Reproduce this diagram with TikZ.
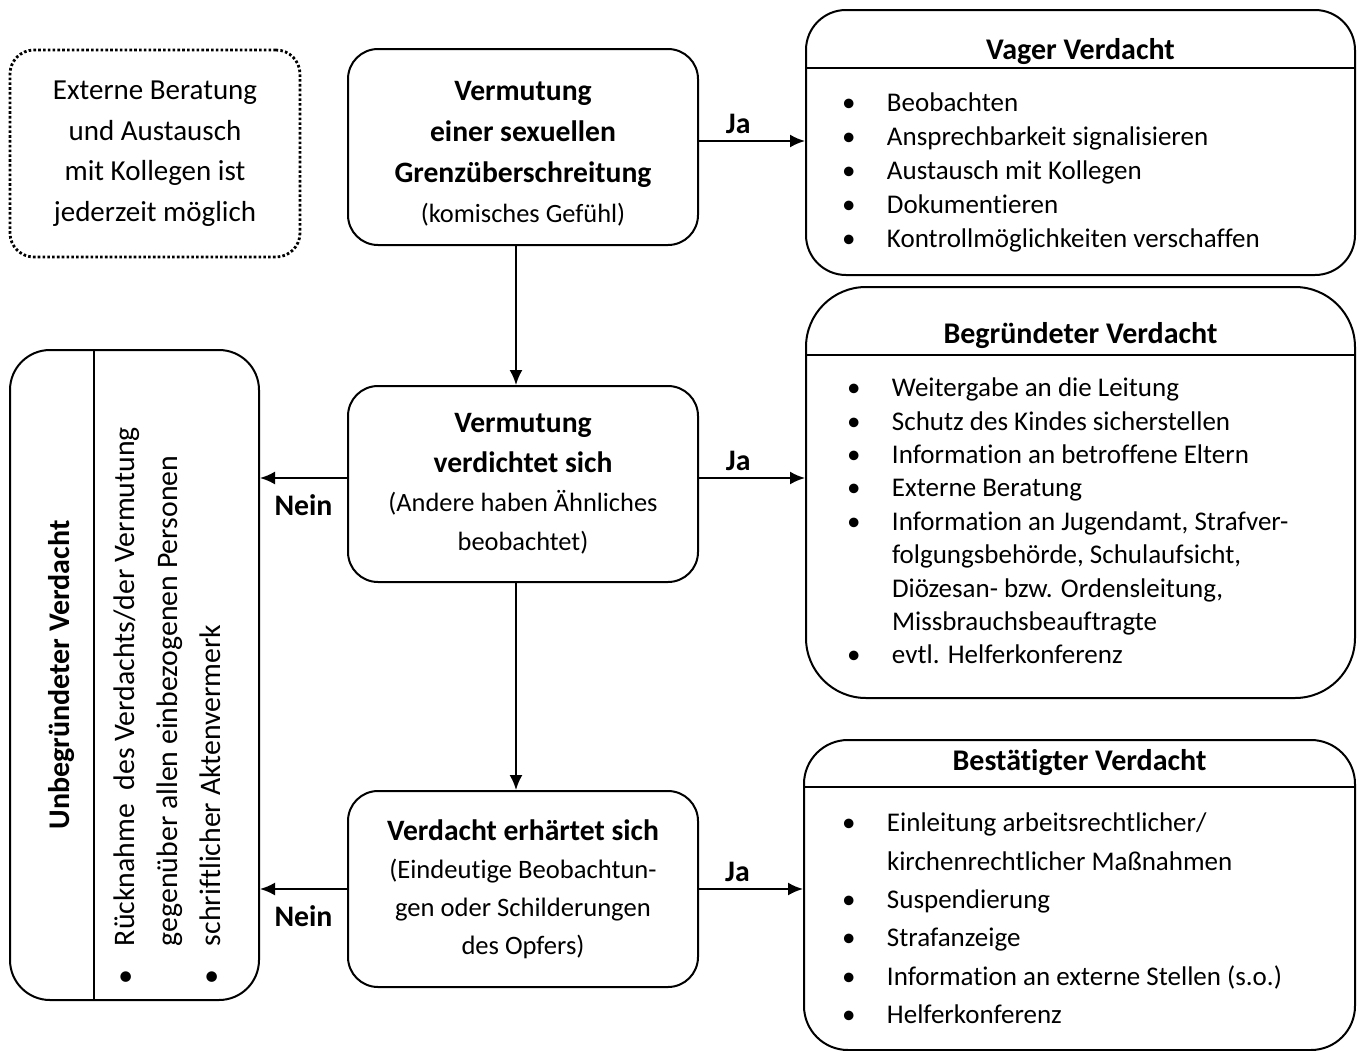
\documentclass[tikz,border=0pt]{standalone}
\usepackage{fontspec}
\setmainfont{Carlito}[Ligatures=NoCommon]
\usetikzlibrary{positioning,arrows.meta}
\newcommand{\bul}[1][22.5pt]{\makebox[#1][l]{\textbullet}}
\newcommand{\cont}[1][22.5pt]{\hspace*{#1}}
\newcommand{\hd}[1]{{\fontsize{14.8}{18}\selectfont\bfseries #1}}

\begin{document}
\begin{tikzpicture}[x=0.5pt,y=-0.5pt,line width=1pt,>={Latex[length=7.5pt,width=6.5pt]},
    every node/.style={font=\fontsize{14.9}{18}\selectfont},
    stepbox/.style={draw,rounded corners=15pt,minimum width=175pt,minimum height=98pt,inner sep=0pt,align=center,font=\fontsize{13.2}{20.3}\selectfont},
    hintbox/.style={draw,line width=1.4pt,dash pattern=on 1.3pt off 1.1pt,rounded corners=12pt,minimum width=145pt,minimum height=103.5pt,inner sep=0pt,align=center,font=\fontsize{14.5}{20.3}\selectfont},
    infobox/.style={draw,rounded corners=20pt,minimum width=274.5pt,inner sep=0pt},
    boxtitle/.style={font=\fontsize{15}{18}\selectfont\bfseries},
    itemlist/.style={anchor=north west,inner sep=0pt,align=left},
    lbl/.style={font=\fontsize{14.9}{18}\selectfont\bfseries}]
    \useasboundingbox (0,0) rectangle (1357,1051);

    % middle column
    \node[hintbox] (hint) at (155,153.5) {Externe Beratung\\und Austausch\\mit Kollegen ist\\jederzeit möglich};
    \node[stepbox] (verm) at (523,147) {\rule{0pt}{16.6pt}\hd{Vermutung}\\\hd{einer sexuellen}\\\hd{Grenzüberschreitung}\\(komisches Gefühl)};
    \node[stepbox,font=\fontsize{13.2}{19.6}\selectfont,below=69.5pt of verm] (dicht) {\hd{Vermutung}\\\hd{verdichtet sich}\\(Andere haben Ähnliches\\beobachtet)};
    \node[stepbox,font=\fontsize{13.3}{19}\selectfont,below=103.5pt of dicht] (hart) {\hd{Verdacht erhärtet sich}\\(Eindeutige Beobachtun-\\gen oder Schilderungen\\des Opfers)};

    % right column
    \node[infobox,minimum height=132.5pt] (vager) at (1080.5,142.5) {};
    \node[boxtitle] (vagertitle) at ([yshift=-21.5pt]vager.north) {Vager Verdacht};
    \draw ([yshift=-29.5pt]vager.north west) -- ([yshift=-29.5pt]vager.north east);
    \node[itemlist,font=\fontsize{13.5}{17}\selectfont] (vagerlist) at (841,92) {\bul Beobachten\\\bul Ansprechbarkeit signalisieren\\\bul Austausch mit Kollegen\\\bul Dokumentieren\\\bul Kontrollmöglichkeiten verschaffen};

    \node[infobox,rounded corners=30pt,minimum height=205.5pt] (begr) at (1080.5,492.5) {};
    \node[boxtitle] (begrtitle) at ([yshift=-25pt]begr.north) {Begründeter Verdacht};
    \draw ([yshift=-34.5pt]begr.north west) -- ([yshift=-34.5pt]begr.north east);
    \node[itemlist,font=\fontsize{13.5}{16.7}\selectfont] (begrlist) at (846,377) {\bul Weitergabe an die Leitung\\\bul Schutz des Kindes sicherstellen\\\bul Information an betroffene Eltern\\\bul Externe Beratung\\\bul Information an Jugendamt, Strafver-\\\cont folgungsbehörde, Schulaufsicht,\\\cont Diözesan- bzw. Ordensleitung,\\\cont Missbrauchsbeauftragte\\\bul evtl. Helferkonferenz};

    \node[infobox,rounded corners=22pt,minimum width=275.5pt,minimum height=155pt] (best) at (1079.5,895) {};
    \node[boxtitle] (besttitle) at ([yshift=-12pt]best.north) {Bestätigter Verdacht};
    \draw ([yshift=-24pt]best.north west) -- ([yshift=-24pt]best.north east);
    \node[itemlist,font=\fontsize{13.5}{19.2}\selectfont] (bestlist) at (841,812) {\bul Einleitung arbeitsrechtlicher/\\\cont kirchenrechtlicher Maßnahmen\\\bul Suspendierung\\\bul Strafanzeige\\\bul Information an externe Stellen (s.o.)\\\bul Helferkonferenz};

    % left column
    \node[infobox,minimum width=124.5pt,minimum height=325pt] (unbeg) at (134.5,675) {};
    \draw ([xshift=42.5pt]unbeg.north west) -- ([xshift=42.5pt]unbeg.south west);
    \node[boxtitle,rotate=90] (unbegtitle) at (62,675) {Unbegründeter Verdacht};
    \node[itemlist,rotate=90,font=\fontsize{14.9}{21.5}\selectfont] (unbeglist) at (113,985) {\bul[19pt]Rücknahme\ \ des Verdachts/der Vermutung\\\cont[19pt]gegenüber allen einbezogenen Personen\\\bul[19pt]schriftlicher Aktenvermerk};

    % connectors
    \draw[->] ([xshift=-3.5pt]verm.south) -- ([xshift=-3.5pt]dicht.north);
    \draw[->] ([xshift=-3.5pt]dicht.south) -- ([xshift=-3.5pt]hart.north);
    \draw[->] ([yshift=3pt]verm.east) -- node[lbl,above,pos=0.37] {Ja} ([yshift=3pt]verm.east -| vager.west);
    \draw[->] ([yshift=3pt]dicht.east) -- node[lbl,above,pos=0.37] {Ja} ([yshift=3pt]dicht.east -| begr.west);
    \draw[->] (hart.east) -- node[lbl,above,pos=0.37] {Ja} (hart.east -| best.west);
    \draw[->] ([yshift=3pt]dicht.west) -- node[lbl,below=4.5pt] {Nein} ([yshift=3pt]dicht.west -| unbeg.east);
    \draw[->] (hart.west) -- node[lbl,below=4.5pt] {Nein} (hart.west -| unbeg.east);
\end{tikzpicture}
\end{document}
